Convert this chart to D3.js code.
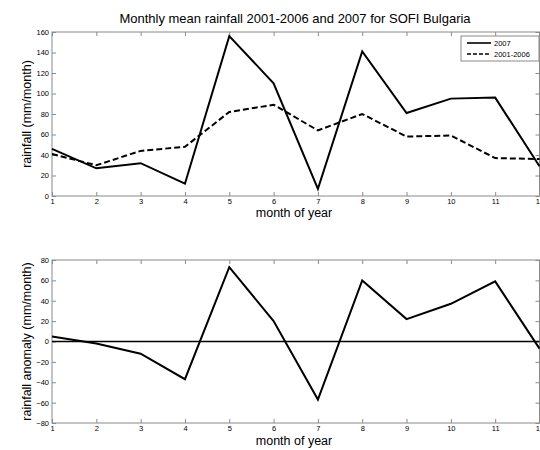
<!DOCTYPE html>
<html>
<head>
<meta charset="utf-8">
<script src="https://cdn.jsdelivr.net/npm/d3@7"></script>
<style>
body { margin: 0; background: #fff; }
</style>
</head>
<body>
<div id="chart"></div>
<script>
var months = [1, 2, 3, 4, 5, 6, 7, 8, 9, 10, 11, 12];
var rain2007 = [46, 27, 32, 12, 156, 110, 7, 141, 81, 95, 96, 29];
var rainMean = [41, 30, 44, 48, 82, 89, 64, 80, 58, 59, 37, 36];
var anomaly = [5, -2, -12, -37, 73, 20, -57, 60, 22, 37, 59, -7];
var topTicks = [0, 20, 40, 60, 80, 100, 120, 140, 160];
var botTicks = [-80, -60, -40, -20, 0, 20, 40, 60, 80];
var seriesNames = ['2007', '2001-2006'];

var width = 540, height = 450;
var left = 52, right = 539.5;

var svg = d3.select('#chart').append('svg')
    .attr('width', width)
    .attr('height', height)
    .style('font-family', 'Helvetica, Arial, "Liberation Sans", sans-serif');

var x = d3.scaleLinear().domain([1, 12]).range([left, right]);

function drawPanel(top, bottom, domain, ticks, ylabel, labelOffset) {
    var y = d3.scaleLinear().domain(domain).range([bottom, top]);
    var g = svg.append('g');

    // box
    g.append('rect')
        .attr('x', left).attr('y', top)
        .attr('width', right - left).attr('height', bottom - top)
        .attr('fill', 'none')
        .attr('stroke', '#8a8a8a')
        .attr('stroke-width', 1);

    var tickLen = 4;
    // inward ticks on all four sides, like matlab
    g.append('g').attr('transform', 'translate(0,' + bottom + ')')
        .call(d3.axisBottom(x).tickValues(months).tickSize(-tickLen).tickPadding(3).tickFormat(d3.format('d')))
        .call(styleAxis);
    g.append('g').attr('transform', 'translate(0,' + top + ')')
        .call(d3.axisTop(x).tickValues(months).tickSize(-tickLen).tickFormat(''))
        .call(styleAxis);
    g.append('g').attr('transform', 'translate(' + left + ',0)')
        .call(d3.axisLeft(y).tickValues(ticks).tickSize(-tickLen).tickPadding(3))
        .call(styleAxis);
    g.append('g').attr('transform', 'translate(' + right + ',0)')
        .call(d3.axisRight(y).tickValues(ticks).tickSize(-tickLen).tickFormat(''))
        .call(styleAxis);

    g.append('text')
        .attr('x', 294)
        .attr('y', bottom + labelOffset)
        .attr('text-anchor', 'middle')
        .attr('font-size', 12.5)
        .text('month of year');

    g.append('text')
        .attr('transform', 'translate(31,' + (top + bottom) / 2 + ') rotate(-90)')
        .attr('text-anchor', 'middle')
        .attr('font-size', 12.5)
        .text(ylabel);

    return y;
}

function styleAxis(sel) {
    sel.select('.domain').remove();
    sel.selectAll('.tick line').attr('stroke', '#8a8a8a');
    sel.selectAll('.tick text').attr('font-size', 7.5).attr('fill', '#000')
        .attr('font-family', 'Helvetica, Arial, "Liberation Sans", sans-serif');
}

svg.append('text')
    .attr('x', 295)
    .attr('y', 23)
    .attr('text-anchor', 'middle')
    .attr('font-size', 13)
    .text('Monthly mean rainfall 2001-2006 and 2007 for SOFI Bulgaria');

// top panel
var yTop = drawPanel(32, 196, [0, 160], topTicks, 'rainfall (mm/month)', 21);
var lineTop = d3.line().x(function(d, i) { return x(months[i]); }).y(function(d) { return yTop(d); });

svg.append('path').datum(rainMean)
    .attr('d', lineTop)
    .attr('fill', 'none')
    .attr('stroke', '#000')
    .attr('stroke-width', 2)
    .attr('stroke-dasharray', '6,3');
svg.append('path').datum(rain2007)
    .attr('d', lineTop)
    .attr('fill', 'none')
    .attr('stroke', '#000')
    .attr('stroke-width', 2);

// legend
var lg = svg.append('g').attr('transform', 'translate(461,36)');
lg.append('rect')
    .attr('width', 78).attr('height', 25)
    .attr('fill', '#fff')
    .attr('stroke', '#8a8a8a');
lg.selectAll('.legendItem')
    .data(seriesNames)
    .enter().append('g')
        .attr('class', 'legendItem')
        .attr('transform', function(d, i) { return 'translate(0,' + (7 + i * 11) + ')'; })
        .each(function(d, i) {
            var item = d3.select(this);
            item.append('line')
                .attr('x1', 6).attr('x2', 30)
                .attr('stroke', '#000')
                .attr('stroke-width', 1.6)
                .attr('stroke-dasharray', i == 1 ? '4,2' : null);
            item.append('text')
                .attr('x', 33).attr('y', 2.5)
                .attr('font-size', 7.5)
                .text(d);
        });

// bottom panel
var yBot = drawPanel(260, 423, [-80, 80], botTicks, 'rainfall anomaly (mm/month)', 22);
svg.append('line')
    .attr('x1', left).attr('x2', right)
    .attr('y1', yBot(0)).attr('y2', yBot(0))
    .attr('stroke', '#000')
    .attr('stroke-width', 1.3);
var lineBot = d3.line().x(function(d, i) { return x(months[i]); }).y(function(d) { return yBot(d); });
svg.append('path').datum(anomaly)
    .attr('d', lineBot)
    .attr('fill', 'none')
    .attr('stroke', '#000')
    .attr('stroke-width', 2);
</script>
</body>
</html>
